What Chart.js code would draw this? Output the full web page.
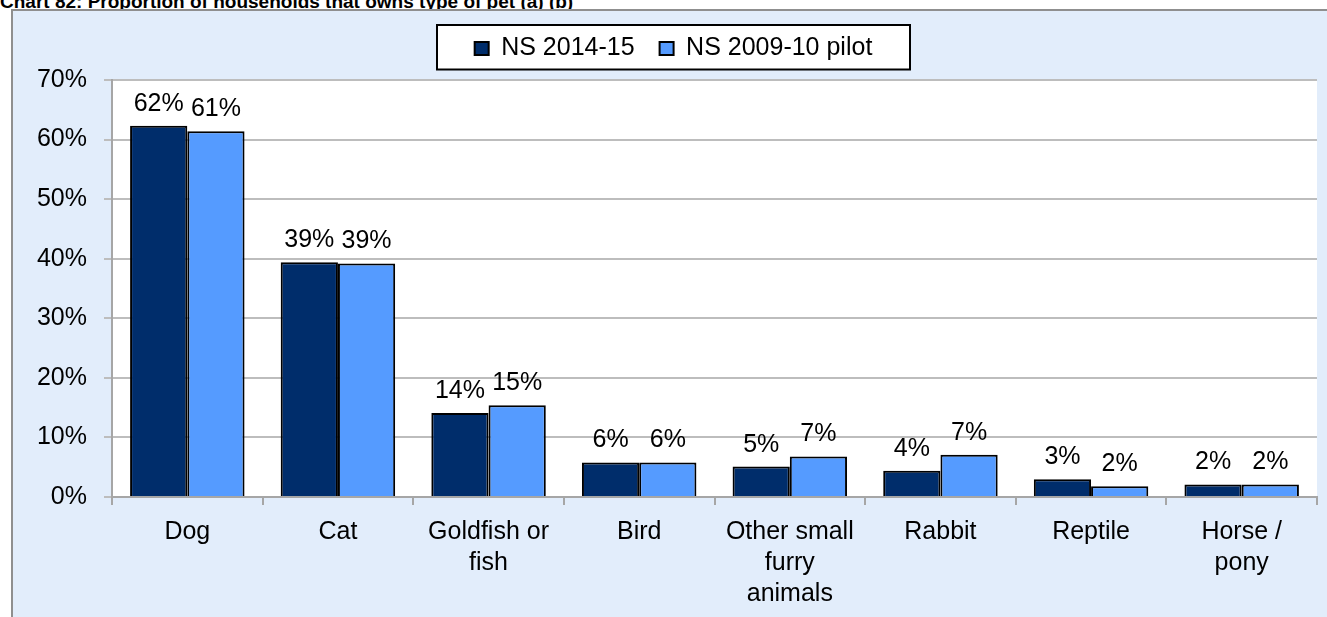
<!DOCTYPE html>
<html>
<head>
<meta charset="utf-8">
<script src="https://cdn.jsdelivr.net/npm/chart.js@4/dist/chart.umd.min.js"></script>
<style>
  html, body { margin: 0; padding: 0; width: 1327px; height: 617px; overflow: hidden; background: #ffffff; }
  #title { position: absolute; left: 0; top: -8px; font: bold 19px/19px "Liberation Sans", Arial, sans-serif; color: #000; white-space: nowrap; }
  #panel { position: absolute; left: 11px; top: 9px; width: 1330px; height: 620px; background: #E2EDFB;
           border-left: 2px solid #8F8F8F; border-top: 2px solid #8F8F8F; }
  #wrap { position: absolute; left: 0; top: 0; width: 1314px; height: 606px; }
</style>
</head>
<body>
<div id="title">Chart 82: Proportion of households that owns type of pet (a) (b)</div>
<div id="panel"><div id="wrap"><canvas id="c" width="1314" height="606"></canvas></div></div>
<script>
const categories = [
  'Dog', 'Cat', ['Goldfish or', 'fish'], 'Bird', ['Other small', 'furry', 'animals'],
  'Rabbit', 'Reptile', ['Horse /', 'pony']
];
const seriesNames = ['NS 2014-15', 'NS 2009-10 pilot'];
const ns201415 = [62.3, 39.4, 14.1, 5.8, 5.1, 4.4, 3.0, 2.1];
const ns200910 = [61.4, 39.2, 15.4, 5.8, 6.8, 7.1, 1.8, 2.1];
const yTicks = [0, 10, 20, 30, 40, 50, 60, 70];

const FONT = '"Liberation Sans", Arial, sans-serif';

const backdrop = {
  id: 'backdrop',
  beforeDraw(chart) {
    const ctx = chart.ctx;
    const a = chart.chartArea;
    ctx.save();
    ctx.fillStyle = '#ffffff';
    ctx.fillRect(a.left, a.top, a.right - a.left, a.bottom - a.top);
    const lg = chart.legend;
    if (lg) {
      const cx = (lg.left + lg.right) / 2;
      const cy = lg.top + lg.options.labels.padding + 12.5;
      ctx.fillStyle = '#ffffff';
      ctx.strokeStyle = '#000000';
      ctx.lineWidth = 2;
      ctx.fillRect(cx - 236.5, cy - 23.5, 473, 44.5);
      ctx.strokeRect(cx - 236.5, cy - 23.5, 473, 44.5);
    }
    ctx.restore();
  }
};

const valueLabels = {
  id: 'valueLabels',
  afterDatasetsDraw(chart) {
    const ctx = chart.ctx;
    ctx.save();
    ctx.font = '25px ' + FONT;
    ctx.fillStyle = '#000000';
    ctx.textAlign = 'center';
    ctx.textBaseline = 'alphabetic';
    chart.data.datasets.forEach((ds, di) => {
      chart.getDatasetMeta(di).data.forEach((bar, i) => {
        ctx.fillText(Math.round(ds.data[i]) + '%', bar.x, bar.y - 15);
      });
    });
    ctx.restore();
  }
};

new Chart(document.getElementById('c'), {
  type: 'bar',
  data: {
    labels: categories,
    datasets: [
      { label: seriesNames[0], data: ns201415, backgroundColor: '#002D6B', borderColor: '#000000', borderWidth: 2 },
      { label: seriesNames[1], data: ns200910, backgroundColor: '#559BFF', borderColor: '#000000', borderWidth: 2 }
    ]
  },
  options: {
    responsive: false,
    animation: false,
    devicePixelRatio: 1,
    layout: { padding: { left: 17, right: 10, top: 0, bottom: 0 } },
    datasets: { bar: { categoryPercentage: 0.76, barPercentage: 1.0 } },
    plugins: {
      legend: {
        position: 'top',
        labels: {
          font: { size: 25, family: FONT },
          color: '#000000',
          boxWidth: 14,
          boxHeight: 13,
          padding: 25
        }
      },
      subtitle: {
        display: true,
        text: '',
        position: 'top',
        weight: 0,
        padding: { top: 8, bottom: 0 },
        font: { size: 1, lineHeight: 1 }
      },
      tooltip: { enabled: false },
      title: { display: false }
    },
    scales: {
      x: {
        afterFit(s) { s.height = 120; },
        grid: { display: true, drawOnChartArea: false, drawTicks: true, tickLength: 8, color: '#A6A6A6', lineWidth: 2, offset: true },
        border: { display: true, color: '#A6A6A6', width: 2 },
        ticks: { color: '#000000', font: { size: 25, family: FONT, lineHeight: 1.24 }, padding: 12, maxRotation: 0, autoSkip: false }
      },
      y: {
        min: 0, max: 70,
        afterFit(s) { s.width = 82; },
        afterBuildTicks(s) { s.ticks = yTicks.map(v => ({ value: v })); },
        grid: { color: '#BDBDBD', lineWidth: 2, drawTicks: true, tickLength: 8 },
        border: { display: true, color: '#A6A6A6', width: 2 },
        ticks: { color: '#000000', font: { size: 25, family: FONT }, padding: 17, callback: v => v + '%' }
      }
    }
  },
  plugins: [backdrop, valueLabels]
});
</script>
</body>
</html>
